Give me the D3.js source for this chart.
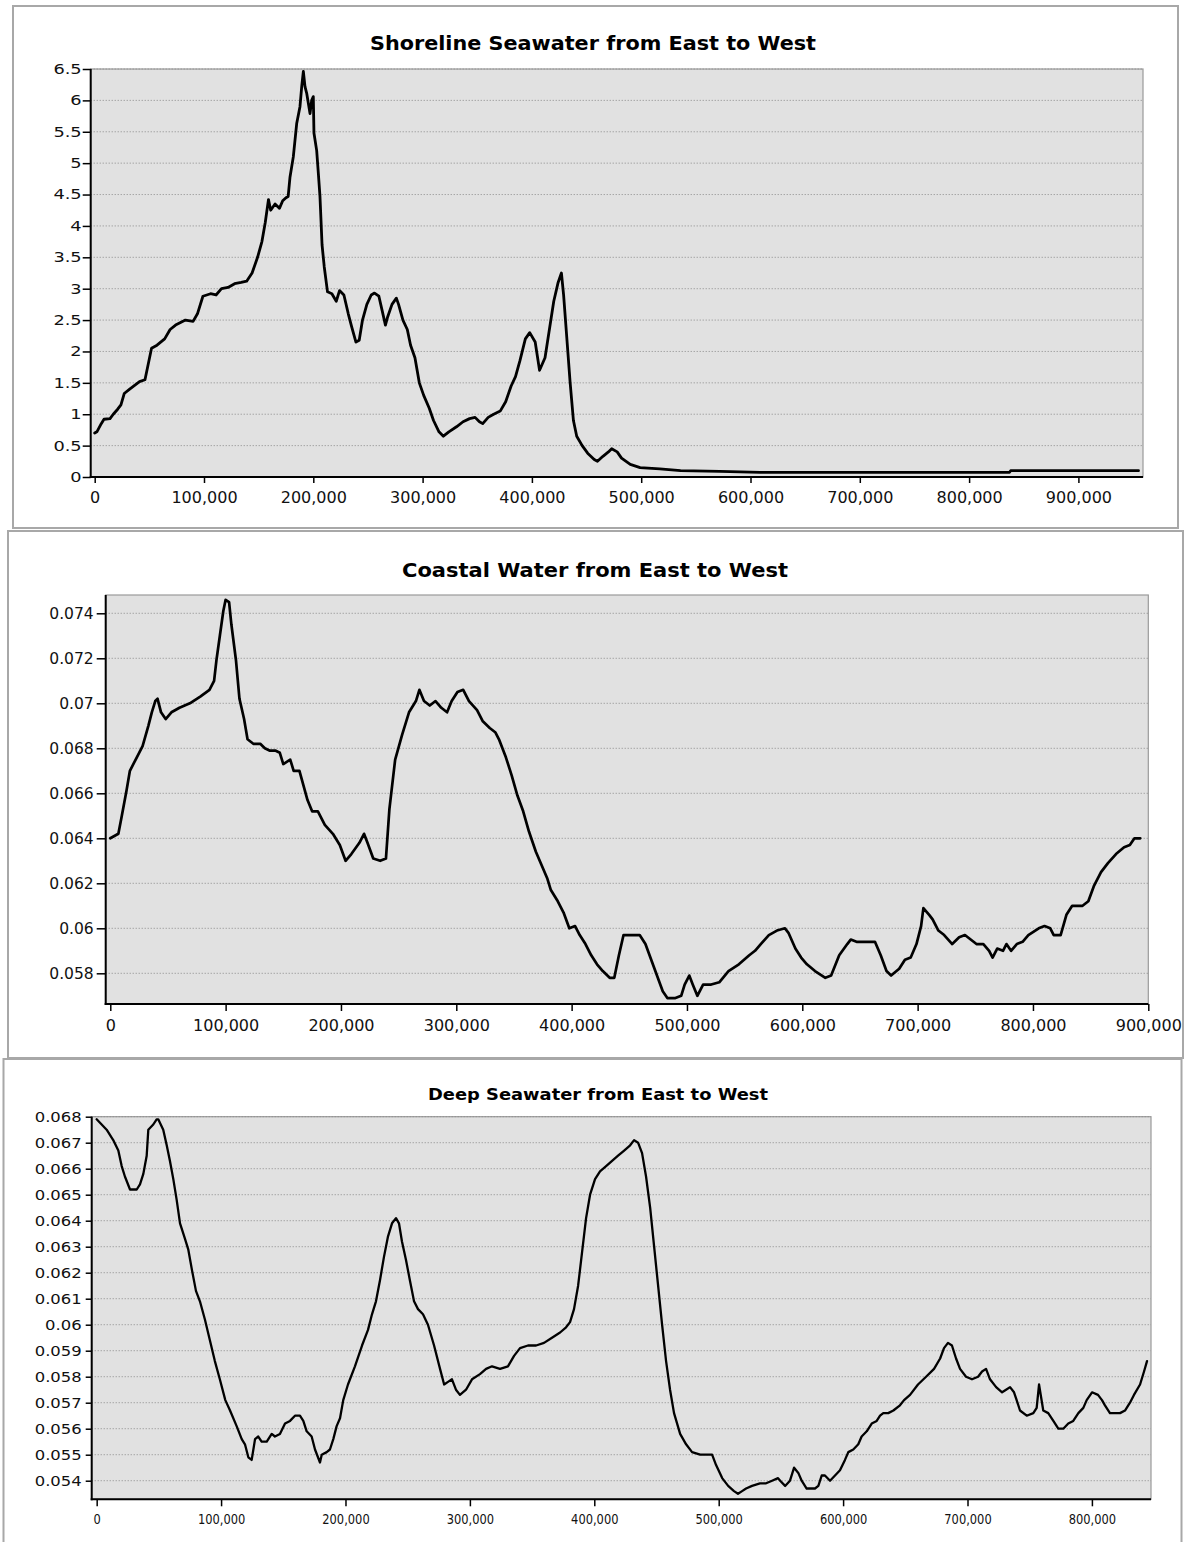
<!DOCTYPE html>
<html>
<head>
<meta charset="utf-8">
<script src="https://cdn.jsdelivr.net/npm/d3@7"></script>
<style>
  html, body { margin: 0; padding: 0; background: #ffffff; }
  svg { display: block; }
</style>
</head>
<body>
<svg id="chart" width="1184" height="1542"></svg>
<script>
// ---- Data: distance along the coast (east to west) and measured value ----

// Shoreline seawater
const shoreDistance = [0, 2000, 6000, 8500, 14000, 17000, 21000, 24000, 27000, 32000, 38000, 41000, 46000, 49000, 52000, 57000, 64000, 69000, 74000, 83000, 90000, 94000, 99000, 106000, 111000, 116000, 122000, 128000, 134000, 139000, 144000, 149000, 153000, 156000, 159000, 161000, 165000, 169000, 172000, 175000, 177000, 178700, 181700, 184800, 187800, 189400, 190900, 192400, 194000, 197000, 198500, 200000, 200600, 203100, 204600, 206100, 208000, 210000, 213000, 217000, 221000, 224000, 228000, 232000, 235000, 239000, 242000, 245000, 249000, 253000, 256000, 260000, 263000, 266000, 268000, 272000, 276000, 278000, 282000, 286000, 289000, 293000, 297000, 301000, 306000, 310000, 315000, 319000, 324000, 331000, 337000, 343000, 348000, 352000, 355000, 360000, 365000, 371000, 376000, 381000, 385000, 389000, 394000, 398000, 403000, 407000, 412000, 416000, 420000, 424000, 427000, 429000, 432000, 435000, 438000, 441000, 446000, 451000, 457000, 460000, 465000, 470000, 473000, 478000, 482000, 490000, 499000, 517000, 536000, 572000, 609000, 684000, 837000, 838000, 955000];
const shoreValue = [0.70, 0.72, 0.85, 0.92, 0.93, 1.00, 1.08, 1.15, 1.33, 1.40, 1.48, 1.52, 1.55, 1.80, 2.05, 2.10, 2.20, 2.35, 2.42, 2.50, 2.48, 2.60, 2.88, 2.92, 2.90, 3.00, 3.02, 3.08, 3.10, 3.12, 3.25, 3.50, 3.75, 4.05, 4.42, 4.25, 4.35, 4.28, 4.40, 4.45, 4.47, 4.78, 5.10, 5.63, 5.90, 6.22, 6.46, 6.22, 6.11, 5.79, 6.00, 6.06, 5.48, 5.20, 4.84, 4.47, 3.70, 3.35, 2.95, 2.92, 2.80, 2.97, 2.90, 2.60, 2.40, 2.15, 2.18, 2.50, 2.75, 2.90, 2.93, 2.88, 2.65, 2.42, 2.55, 2.75, 2.85, 2.75, 2.50, 2.35, 2.10, 1.90, 1.50, 1.30, 1.10, 0.90, 0.72, 0.65, 0.72, 0.80, 0.88, 0.93, 0.95, 0.88, 0.85, 0.95, 1.00, 1.05, 1.20, 1.45, 1.60, 1.85, 2.20, 2.30, 2.15, 1.70, 1.90, 2.35, 2.80, 3.10, 3.25, 2.90, 2.20, 1.50, 0.90, 0.65, 0.50, 0.38, 0.28, 0.25, 0.33, 0.40, 0.45, 0.40, 0.30, 0.20, 0.15, 0.13, 0.10, 0.09, 0.075, 0.075, 0.075, 0.10, 0.10];
const shoreYTicks = [0, 0.5, 1, 1.5, 2, 2.5, 3, 3.5, 4, 4.5, 5, 5.5, 6, 6.5];
const shoreXTicks = [0, 100000, 200000, 300000, 400000, 500000, 600000, 700000, 800000, 900000];

// Coastal water
const coastalDistance = [0, 7000, 10000, 14000, 17000, 22000, 28000, 33000, 36000, 39000, 41000, 44000, 48000, 53000, 60000, 69000, 78000, 86000, 90000, 92000, 95000, 98000, 100000, 103000, 105000, 109000, 112000, 116000, 119000, 124000, 130000, 134000, 138000, 143000, 147000, 150000, 156000, 159000, 164000, 171000, 175000, 180000, 186000, 193000, 199000, 204000, 209000, 216000, 220000, 223000, 228000, 234000, 239000, 242000, 247000, 253000, 259000, 265000, 268000, 272000, 277000, 282000, 287000, 292000, 296000, 301000, 306000, 311000, 318000, 323000, 329000, 334000, 337000, 343000, 348000, 353000, 358000, 363000, 369000, 374000, 379000, 382000, 388000, 393000, 398000, 403000, 407000, 412000, 417000, 422000, 427000, 433000, 437000, 441000, 445000, 450000, 459000, 464000, 469000, 474000, 479000, 483000, 490000, 495000, 498000, 502000, 505000, 509000, 514000, 521000, 528000, 536000, 545000, 554000, 559000, 564000, 571000, 578000, 585000, 588000, 594000, 599000, 604000, 611000, 620000, 625000, 632000, 639000, 642000, 647000, 654000, 663000, 668000, 673000, 677000, 684000, 689000, 694000, 699000, 703000, 705000, 710000, 713000, 718000, 723000, 730000, 736000, 741000, 746000, 751000, 757000, 762000, 765000, 769000, 774000, 777000, 781000, 786000, 791000, 796000, 805000, 810000, 815000, 818000, 824000, 829000, 834000, 843000, 848000, 853000, 859000, 865000, 872000, 879000, 884000, 888000, 893000];
const coastalValue = [0.0640, 0.0642, 0.0650, 0.0661, 0.0670, 0.0675, 0.0681, 0.0690, 0.0696, 0.0701, 0.0702, 0.0696, 0.0693, 0.0696, 0.0698, 0.0700, 0.0703, 0.0706, 0.0710, 0.0719, 0.0730, 0.0741, 0.0746, 0.0745, 0.0735, 0.0719, 0.0702, 0.0693, 0.0684, 0.0682, 0.0682, 0.0680, 0.0679, 0.0679, 0.0678, 0.0673, 0.0675, 0.0670, 0.0670, 0.0657, 0.0652, 0.0652, 0.0646, 0.0642, 0.0637, 0.0630, 0.0633, 0.0638, 0.0642, 0.0638, 0.0631, 0.0630, 0.0631, 0.0653, 0.0675, 0.0686, 0.0696, 0.0701, 0.0706, 0.0701, 0.0699, 0.0701, 0.0698, 0.0696, 0.0701, 0.0705, 0.0706, 0.0701, 0.0697, 0.0692, 0.0689, 0.0687, 0.0684, 0.0676, 0.0668, 0.0659, 0.0652, 0.0643, 0.0634, 0.0628, 0.0622, 0.0617, 0.0612, 0.0607, 0.0600, 0.0601, 0.0597, 0.0593, 0.0588, 0.0584, 0.0581, 0.0578, 0.0578, 0.0588, 0.0597, 0.0597, 0.0597, 0.0593, 0.0586, 0.0579, 0.0572, 0.0569, 0.0569, 0.0570, 0.0575, 0.0579, 0.0575, 0.0570, 0.0575, 0.0575, 0.0576, 0.0581, 0.0584, 0.0588, 0.0590, 0.0593, 0.0597, 0.0599, 0.0600, 0.0598, 0.0591, 0.0587, 0.0584, 0.0581, 0.0578, 0.0579, 0.0588, 0.0593, 0.0595, 0.0594, 0.0594, 0.0594, 0.0588, 0.0581, 0.0579, 0.0582, 0.0586, 0.0587, 0.0593, 0.0601, 0.0609, 0.0606, 0.0604, 0.0599, 0.0597, 0.0593, 0.0596, 0.0597, 0.0595, 0.0593, 0.0593, 0.0590, 0.0587, 0.0591, 0.0590, 0.0593, 0.0590, 0.0593, 0.0594, 0.0597, 0.0600, 0.0601, 0.0600, 0.0597, 0.0597, 0.0606, 0.0610, 0.0610, 0.0612, 0.0619, 0.0625, 0.0629, 0.0633, 0.0636, 0.0637, 0.0640, 0.0640];
const coastalYTicks = [0.058, 0.060, 0.062, 0.064, 0.066, 0.068, 0.070, 0.072, 0.074];
const coastalXTicks = [0, 100000, 200000, 300000, 400000, 500000, 600000, 700000, 800000, 900000];

// Deep seawater
const deepDistance = [0, 8000, 13300, 17400, 20100, 22700, 26800, 32200, 34800, 37500, 40200, 41500, 45500, 48200, 49500, 53500, 56300, 58900, 61600, 64300, 67000, 71000, 73600, 76600, 79800, 83000, 87000, 91000, 95000, 99000, 103400, 107200, 112500, 116600, 119200, 121900, 124600, 127300, 129900, 132600, 136700, 140700, 143300, 147300, 151400, 155400, 159400, 163400, 166100, 168800, 172800, 175500, 179500, 180900, 184900, 187500, 190200, 192900, 195600, 198200, 202000, 207600, 213300, 218100, 221300, 224500, 227700, 230900, 234200, 237400, 240600, 243000, 245400, 248600, 251800, 255100, 258300, 262300, 266300, 271200, 276000, 279300, 282400, 285600, 288800, 292000, 296900, 301700, 308100, 313000, 317800, 324200, 330600, 335500, 340300, 346700, 353200, 359600, 366000, 372500, 377300, 380500, 383700, 387000, 390200, 393400, 396600, 400600, 404600, 409500, 414300, 419100, 424000, 428800, 432000, 435200, 438400, 441600, 444900, 448100, 451300, 454500, 457700, 460900, 464100, 469000, 473800, 478600, 485100, 489900, 494700, 497900, 502800, 507600, 512300, 515500, 518800, 522000, 526800, 533200, 538100, 542900, 547700, 549400, 553400, 557300, 560600, 564000, 566700, 570700, 577400, 580100, 582800, 585400, 589500, 593500, 597500, 601500, 604200, 608200, 612200, 614900, 619000, 623000, 627000, 629700, 632300, 636300, 640400, 645700, 649000, 653800, 660200, 666700, 673100, 678000, 681100, 684300, 687500, 690800, 694000, 698800, 703600, 708500, 711700, 714900, 718100, 723000, 727800, 731000, 734200, 737400, 739500, 742200, 747600, 752900, 755600, 757500, 760900, 764900, 769000, 773000, 777000, 781000, 785000, 789100, 793100, 795800, 800100, 804900, 808100, 810500, 814500, 822600, 826600, 830600, 833800, 838700, 841900, 844300];
const deepValue = [0.0679, 0.0675, 0.0671, 0.0667, 0.0661, 0.0657, 0.0652, 0.0652, 0.0654, 0.0658, 0.0665, 0.0675, 0.0677, 0.0679, 0.0679, 0.0675, 0.0669, 0.0663, 0.0656, 0.0648, 0.0639, 0.0633, 0.0629, 0.0621, 0.0613, 0.0609, 0.0602, 0.0594, 0.0586, 0.0579, 0.0571, 0.0567, 0.0561, 0.0556, 0.0554, 0.0549, 0.0548, 0.0556, 0.0557, 0.0555, 0.0555, 0.0558, 0.0557, 0.0558, 0.0562, 0.0563, 0.0565, 0.0565, 0.0563, 0.0559, 0.0557, 0.0552, 0.0547, 0.0550, 0.0551, 0.0552, 0.0556, 0.0561, 0.0564, 0.0571, 0.0577, 0.0584, 0.0592, 0.0598, 0.0604, 0.0609, 0.0617, 0.0626, 0.0634, 0.0639, 0.0641, 0.0639, 0.0632, 0.0625, 0.0617, 0.0609, 0.0606, 0.0604, 0.0600, 0.0592, 0.0583, 0.0577, 0.0578, 0.0579, 0.0575, 0.0573, 0.0575, 0.0579, 0.0581, 0.0583, 0.0584, 0.0583, 0.0584, 0.0588, 0.0591, 0.0592, 0.0592, 0.0593, 0.0595, 0.0597, 0.0599, 0.0601, 0.0606, 0.0615, 0.0628, 0.0641, 0.0650, 0.0656, 0.0659, 0.0661, 0.0663, 0.0665, 0.0667, 0.0669, 0.0671, 0.0670, 0.0666, 0.0657, 0.0645, 0.0630, 0.0615, 0.0600, 0.0586, 0.0575, 0.0566, 0.0558, 0.0554, 0.0551, 0.0550, 0.0550, 0.0550, 0.0546, 0.0541, 0.0538, 0.0536, 0.0535, 0.0536, 0.0537, 0.0538, 0.0539, 0.0539, 0.0540, 0.0541, 0.0540, 0.0538, 0.0540, 0.0545, 0.0543, 0.0540, 0.0537, 0.0537, 0.0538, 0.0542, 0.0542, 0.0540, 0.0542, 0.0544, 0.0548, 0.0551, 0.0552, 0.0554, 0.0557, 0.0559, 0.0562, 0.0563, 0.0565, 0.0566, 0.0566, 0.0567, 0.0569, 0.0571, 0.0573, 0.0577, 0.0580, 0.0583, 0.0587, 0.0591, 0.0593, 0.0592, 0.0587, 0.0583, 0.0580, 0.0579, 0.0580, 0.0582, 0.0583, 0.0579, 0.0576, 0.0574, 0.0575, 0.0576, 0.0574, 0.0571, 0.0567, 0.0565, 0.0566, 0.0568, 0.0577, 0.0567, 0.0566, 0.0563, 0.0560, 0.0560, 0.0562, 0.0563, 0.0566, 0.0568, 0.0571, 0.0574, 0.0573, 0.0571, 0.0569, 0.0566, 0.0566, 0.0567, 0.0570, 0.0573, 0.0577, 0.0582, 0.0586];
const deepYTicks = [0.054, 0.055, 0.056, 0.057, 0.058, 0.059, 0.060, 0.061, 0.062, 0.063, 0.064, 0.065, 0.066, 0.067, 0.068];
const deepXTicks = [0, 100000, 200000, 300000, 400000, 500000, 600000, 700000, 800000];

const titles = [
  "Shoreline Seawater from East to West",
  "Coastal Water from East to West",
  "Deep Seawater from East to West"
];

// ---- Layout of the three stacked chart panels ----
const panels = [
  {
    title: titles[0], titleX: 593, titleY: 50, titleSize: 19, titleWidth: 446,
    frame: { x: 13, y: 6, w: 1165, h: 522 },
    plot: { l: 90.7, r: 1143, t: 69, b: 477 },
    xDomain: [-3660, 959100], yDomain: [0, 6.5],
    dist: shoreDistance, vals: shoreValue,
    yTicks: shoreYTicks, xTicks: shoreXTicks,
    yFont: 13.7, yStretch: 1.3, yTick: 8, yPad: 1,
    xFont: 16, xStretch: 1.0, xTick: 6, xPad: 9,
    lineWidth: 2.8
  },
  {
    title: titles[1], titleX: 595, titleY: 577, titleSize: 19, titleWidth: 386,
    frame: { x: 8, y: 531, w: 1175, h: 527 },
    plot: { l: 105.7, r: 1148.3, t: 595, b: 1004 },
    xDomain: [-3980, 900000], yDomain: [0.056636, 0.074813],
    dist: coastalDistance, vals: coastalValue,
    yTicks: coastalYTicks, xTicks: coastalXTicks,
    yFont: 16, yStretch: 0.97, yTick: 9, yPad: 3,
    xFont: 16, xStretch: 1.0, xTick: 7, xPad: 9,
    lineWidth: 2.7
  },
  {
    title: titles[2], titleX: 598, titleY: 1100, titleSize: 16, titleWidth: 340,
    frame: { x: 3.5, y: 1059, w: 1178, h: 500 },
    plot: { l: 91.7, r: 1151, t: 1116.7, b: 1499.3 },
    xDomain: [-4000, 847500], yDomain: [0.053285, 0.068],
    dist: deepDistance, vals: deepValue,
    yTicks: deepYTicks, xTicks: deepXTicks,
    yFont: 13.7, yStretch: 1.2, yTick: 6, yPad: 4,
    xFont: 14.5, xStretch: 0.79, xTick: 7, xPad: 7,
    lineWidth: 2.3
  }
];

const FONT = "'DejaVu Sans', Verdana, sans-serif";
const svg = d3.select("#chart");

// Squeeze or widen each label to the given horizontal factor
function stretchText(sel, factor) {
  sel.each(function () {
    const w = this.getComputedTextLength();
    d3.select(this)
      .attr("textLength", (w * factor).toFixed(2))
      .attr("lengthAdjust", "spacingAndGlyphs");
  });
}

function drawPanel(p) {
  const g = svg.append("g");

  // outer frame of the panel
  g.append("rect")
    .attr("x", p.frame.x).attr("y", p.frame.y)
    .attr("width", p.frame.w).attr("height", p.frame.h)
    .attr("fill", "#ffffff")
    .attr("stroke", "#a8a8a8").attr("stroke-width", 2);

  const x = d3.scaleLinear().domain(p.xDomain).range([p.plot.l, p.plot.r]);
  const y = d3.scaleLinear().domain(p.yDomain).range([p.plot.b, p.plot.t]);

  // plot background
  g.append("rect")
    .attr("x", p.plot.l).attr("y", p.plot.t)
    .attr("width", p.plot.r - p.plot.l).attr("height", p.plot.b - p.plot.t)
    .attr("fill", "#e1e1e1")
    .attr("stroke", "#9a9a9a").attr("stroke-width", 1.2);

  // dotted horizontal grid lines
  g.append("g").selectAll("line")
    .data(p.yTicks)
    .join("line")
    .attr("x1", p.plot.l).attr("x2", p.plot.r)
    .attr("y1", d => y(d)).attr("y2", d => y(d))
    .attr("stroke", "#8a8a8a").attr("stroke-width", 1)
    .attr("stroke-dasharray", "1,2");

  // data line
  const pts = d3.zip(p.dist, p.vals);
  g.append("path")
    .datum(pts)
    .attr("fill", "none")
    .attr("stroke", "#000000")
    .attr("stroke-width", p.lineWidth)
    .attr("stroke-linejoin", "round")
    .attr("stroke-linecap", "round")
    .attr("d", d3.line().x(d => x(d[0])).y(d => y(d[1])));

  // left axis
  const yAxis = g.append("g")
    .attr("transform", `translate(${p.plot.l},0)`)
    .call(d3.axisLeft(y).tickValues(p.yTicks).tickFormat(d3.format(""))
      .tickSize(p.yTick).tickSizeOuter(0).tickPadding(p.yPad));
  yAxis.select(".domain").attr("stroke", "#000").attr("stroke-width", 2)
    .attr("d", `M0,${p.plot.t}V${p.plot.b + 1}`);
  yAxis.selectAll(".tick line").attr("stroke", "#000").attr("stroke-width", 1.5);
  yAxis.selectAll(".tick text")
    .attr("fill", "#111").style("font-family", FONT).style("font-size", p.yFont + "px");
  stretchText(yAxis.selectAll(".tick text"), p.yStretch);

  // bottom axis
  const xAxis = g.append("g")
    .attr("transform", `translate(0,${p.plot.b})`)
    .call(d3.axisBottom(x).tickValues(p.xTicks).tickFormat(d3.format(","))
      .tickSize(p.xTick).tickSizeOuter(0).tickPadding(p.xPad));
  xAxis.select(".domain").attr("stroke", "#000").attr("stroke-width", 2)
    .attr("d", `M${p.plot.l - 1},0H${p.plot.r}`);
  xAxis.selectAll(".tick line").attr("stroke", "#000").attr("stroke-width", 1.5);
  xAxis.selectAll(".tick text")
    .attr("fill", "#111").style("font-family", FONT).style("font-size", p.xFont + "px");
  stretchText(xAxis.selectAll(".tick text"), p.xStretch);

  // title
  g.append("text")
    .attr("x", p.titleX).attr("y", p.titleY)
    .attr("text-anchor", "middle")
    .attr("textLength", p.titleWidth)
    .attr("lengthAdjust", "spacingAndGlyphs")
    .style("font-family", FONT).style("font-weight", "bold")
    .style("font-size", p.titleSize + "px")
    .attr("fill", "#000")
    .text(p.title);
}

panels.forEach(drawPanel);
</script>
</body>
</html>
